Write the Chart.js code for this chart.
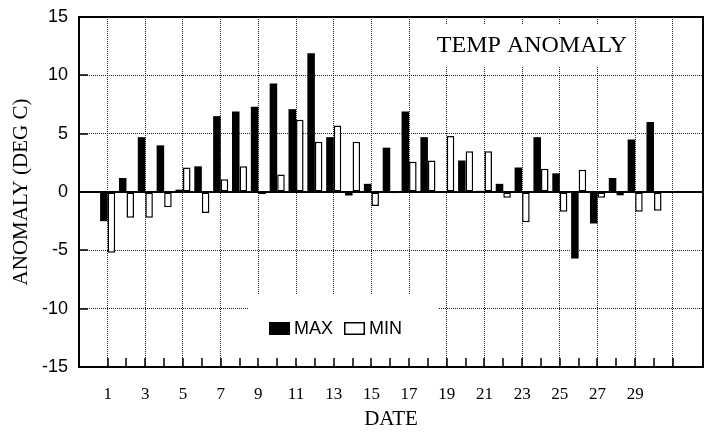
<!DOCTYPE html>
<html>
<head>
<meta charset="utf-8">
<script src="https://cdn.jsdelivr.net/npm/chart.js@4/dist/chart.umd.min.js"></script>
<style>
  html, body { margin: 0; padding: 0; background: #fff; }
  canvas { display: block; }
</style>
</head>
<body>
<canvas id="myChart" width="710" height="433"></canvas>
<script>
// dati
const days = [1, 2, 3, 4, 5, 6, 7, 8, 9, 10, 11, 12, 13, 14, 15, 16, 17, 18, 19, 20, 21, 22, 23, 24, 25, 26, 27, 28, 29, 30];
const maxVals = [-2.5, 1.2, 4.7, 4.0, 0.2, 2.2, 6.5, 6.9, 7.3, 9.3, 7.1, 11.9, 4.7, -0.3, 0.7, 3.8, 6.9, 4.7, 0, 2.7, 0.1, 0.7, 2.1, 4.7, 1.6, -5.7, -2.7, 1.2, 4.5, 6.0];
const minVals = [-5.2, -2.2, -2.2, -1.3, 2.1, -1.8, 1.1, 2.2, -0.2, 1.5, 6.2, 4.3, 5.7, 4.3, -1.2, -0.1, 2.6, 2.7, 4.8, 3.5, 3.5, -0.5, -2.6, 2.0, -1.7, 1.9, -0.5, -0.3, -1.7, -1.6];
const dateLabels = ['1', '3', '5', '7', '9', '11', '13', '15', '17', '19', '21', '23', '25', '27', '29'];
const yTicks = [-15, -10, -5, 0, 5, 10, 15];

const SANS = '"Liberation Sans", Arial, sans-serif';
const SERIF = '"Liberation Serif", "Times New Roman", serif';

// sfondo bianco per titolo e legenda
const decorations = {
  id: 'decorations',
  beforeDatasetsDraw(chart) {
    const c = chart.ctx;
    c.save();
    c.fillStyle = '#fff';
    c.fillRect(425, 24, 207, 42);
    c.fillRect(248, 295, 190, 70);
    c.restore();
  },
  // cornice, linea dello zero, tacche interne, titolo e legenda
  afterDraw(chart) {
    const c = chart.ctx;
    const a = chart.chartArea;
    const x = chart.scales.x;
    const y = chart.scales.y;
    c.save();
    c.setLineDash([]);
    c.strokeStyle = '#000';

    c.lineWidth = 2;
    c.beginPath();
    c.rect(Math.round(a.left), Math.round(a.top), Math.round(a.right - a.left), Math.round(a.bottom - a.top));
    c.stroke();

    const y0 = Math.round(y.getPixelForValue(0));
    c.beginPath();
    c.moveTo(a.left, y0);
    c.lineTo(a.right, y0);
    c.stroke();

    c.lineWidth = 1.5;
    c.beginPath();
    x.ticks.forEach(t => {
      const px = Math.round(x.getPixelForValue(t.value));
      c.moveTo(px, a.bottom);
      c.lineTo(px, a.bottom - 9);
    });
    y.ticks.forEach(t => {
      const py = Math.round(y.getPixelForValue(t.value));
      c.moveTo(a.left, py);
      c.lineTo(a.left + 9, py);
    });
    c.stroke();

    c.fillStyle = '#000';
    c.font = '24px ' + SERIF;
    c.textAlign = 'center';
    c.textBaseline = 'alphabetic';
    c.fillText('TEMP ANOMALY', 532, 52);

    c.font = '18px ' + SANS;
    c.textAlign = 'left';
    c.textBaseline = 'middle';
    let lx = 269;
    const ly = 322;
    chart.data.datasets.forEach(d => {
      c.fillStyle = d.backgroundColor;
      c.fillRect(lx, ly, 21, 13);
      if (d.borderWidth) {
        c.lineWidth = 1.5;
        c.strokeStyle = d.borderColor;
        c.strokeRect(lx + 0.75, ly + 0.75, 19.5, 11.5);
      }
      c.fillStyle = '#000';
      c.fillText(d.label, lx + 25, ly + 7);
      lx += 25 + c.measureText(d.label).width + 11;
    });
    c.restore();
  }
};

const ctx = document.getElementById('myChart').getContext('2d');
const chart = new Chart(ctx, {
  type: 'bar',
  data: {
    datasets: [{
      label: 'MAX',
      data: days.map((d, i) => ({ x: d, y: maxVals[i] })),
      backgroundColor: '#000',
      borderWidth: 0,
      categoryPercentage: 0.8,
      barPercentage: 1.0
    }, {
      label: 'MIN',
      data: days.map((d, i) => ({ x: d, y: minVals[i] })),
      backgroundColor: '#fff',
      borderColor: '#000',
      borderWidth: 1.5,
      borderSkipped: false,
      categoryPercentage: 0.8,
      barPercentage: 1.0
    }]
  },
  options: {
    responsive: false,
    animation: false,
    devicePixelRatio: 1,
    layout: { padding: { left: 0, top: 17, right: 7, bottom: 0 } },
    scales: {
      x: {
        type: 'linear',
        min: -0.52,
        max: 32.6,
        offset: false,
        afterBuildTicks: scale => {
          const t = [];
          for (let v = 1; v <= 31; v++) t.push({ value: v });
          scale.ticks = t;
        },
        afterFit: scale => { scale.height = 66; },
        grid: {
          offset: false,
          drawTicks: false,
          color: c => (c.tick && c.tick.value % 2 === 1) ? '#222' : 'rgba(0,0,0,0)',
          lineWidth: 1
        },
        border: { display: false, dash: [1, 1] },
        ticks: {
          autoSkip: false,
          maxRotation: 0,
          padding: 17,
          color: '#000',
          font: { family: SERIF, size: 17 },
          callback: v => dateLabels.includes(String(v)) ? String(v) : ''
        },
        title: {
          display: true,
          text: 'DATE',
          color: '#000',
          font: { family: SERIF, size: 21 },
          padding: { top: 0, bottom: 1 }
        }
      },
      y: {
        min: -15,
        max: 15,
        afterBuildTicks: scale => { scale.ticks = yTicks.map(v => ({ value: v })); },
        afterFit: scale => {
          scale.width = 79;
          scale.paddingTop = 0;
          scale.paddingBottom = 0;
        },
        grid: {
          drawTicks: false,
          color: c => (c.tick && Math.abs(c.tick.value) !== 15 && c.tick.value !== 0) ? '#222' : 'rgba(0,0,0,0)',
          lineWidth: 1
        },
        border: { display: false, dash: [1, 1] },
        ticks: {
          padding: 11,
          color: '#000',
          font: { family: SANS, size: 18 }
        },
        title: {
          display: true,
          text: 'ANOMALY (DEG C)',
          color: '#000',
          font: { family: SERIF, size: 21 },
          padding: { top: 9, bottom: 0 }
        }
      }
    },
    plugins: {
      legend: { display: false },
      tooltip: { enabled: false }
    }
  },
  plugins: [decorations]
});
</script>
</body>
</html>
